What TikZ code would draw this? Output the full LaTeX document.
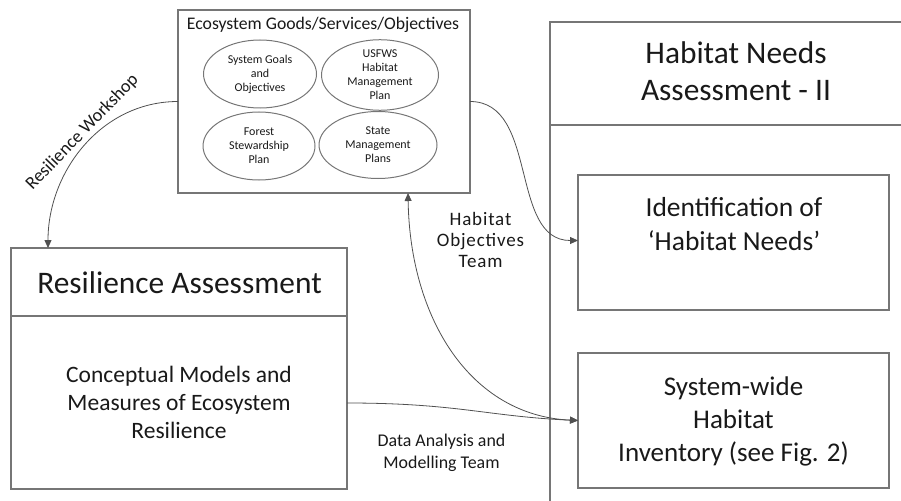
\documentclass[tikz,border=0pt]{standalone}
\usepackage{fontspec}
\setmainfont{Carlito}
\usetikzlibrary{arrows.meta,shapes.geometric,calc}
\definecolor{boxcol}{RGB}{118,118,118}
\definecolor{linecol}{RGB}{80,80,80}
\definecolor{txtcol}{RGB}{25,25,25}
\begin{document}
\begin{tikzpicture}[x=1pt,y=-1pt,
  frame/.style={draw=boxcol, line width=1.2pt, inner sep=0pt, outer sep=0pt},
  oval/.style={ellipse, draw=boxcol, line width=1pt, inner sep=0pt, outer sep=0pt, align=center, text=txtcol, font=\fontsize{12}{14}\selectfont},
  txt/.style={align=center, text=txtcol, inner sep=0pt},
  conn/.style={draw=linecol, line width=0.8pt},
  tip/.tip={Triangle[length=8pt,width=7pt]}
]
\useasboundingbox (0,0) rectangle (901,500);
% Habitat Needs Assessment frame (runs off the page)
\begin{scope}
  \clip (0,0) rectangle (901,500);
  \node[frame, minimum width=372pt, minimum height=498pt] (hna) at (736,271) {};
  \draw[frame] ($(hna.north west)+(0,103)$) -- ($(hna.north east)+(0,103)$);
\end{scope}
\node[txt, font=\fontsize{31.4}{37}\selectfont] (hnat) at (736,71) {Habitat Needs\\Assessment - II};
\node[frame, minimum width=311pt, minimum height=135pt] (ident) at (733.5,242.5) {};
\node[txt, font=\fontsize{27.5}{33.5}\selectfont] (identt) at (734,224) {Identification of\\‘Habitat Needs’};
\node[frame, minimum width=311pt, minimum height=135pt] (sys) at (733.5,420.5) {};
\node[txt, font=\fontsize{27}{33.3}\selectfont] (syst) at (733.5,421.5) {System-wide\\Habitat\\Inventory (see Fig. 2)};
% Ecosystem goods box
\node[frame, minimum width=292pt, minimum height=183pt] (eco) at (324,101.5) {};
\node[txt, font=\fontsize{17.7}{21}\selectfont, anchor=base] (ecot) at (323,29.5) {Ecosystem Goods/Services/Objectives};
\node[oval, minimum width=113pt, minimum height=68pt] (sg) at (260,74) {System Goals\\and\\Objectives};
\node[oval, minimum width=117pt, minimum height=69pt] (us) at (380,75) {USFWS\\Habitat\\Management\\Plan};
\node[oval, minimum width=112pt, minimum height=68pt] (fs) at (259,146) {Forest\\Stewardship\\Plan};
\node[oval, minimum width=118pt, minimum height=67pt] (sm) at (378,145) {State\\Management\\Plans};
% Resilience assessment box
\node[frame, minimum width=336pt, minimum height=241pt] (res) at (179,368.5) {};
\draw[frame] ($(res.north west)+(0,68)$) -- ($(res.north east)+(0,68)$);
\node[txt, font=\fontsize{31.4}{37}\selectfont, anchor=base] (rest) at (179.5,293) {Resilience Assessment};
\node[txt, font=\fontsize{23.5}{28}\selectfont] (cmt) at (179,402) {Conceptual Models and\\Measures of Ecosystem\\Resilience};
% connectors
\draw[conn, -tip] (eco.west) to[out=180, in=90]
  node[pos=0.46, anchor=south, rotate=46, txt, inner sep=2.5pt, font=\fontsize{18.2}{21}\selectfont] {Resilience Workshop}
  ($(res.north west)+(37,0)$);
\draw[conn, -tip] (eco.east) to[out=0, in=180] ($(ident.west)+(0,-2)$);
\draw[conn, tip-tip] ($(eco.south west)+(230,0)$) .. controls +(2,125) and +(-108,-5) .. (sys.west);
\draw[conn, -tip] ($(res.east)+(0,34.5)$) .. controls +(110,0) and +(-90,-4) .. (sys.west);
\node[txt, font=\fontsize{19}{21}\selectfont\addfontfeature{LetterSpace=4.5}] (hot) at (480.5,240) {Habitat\\Objectives\\Team};
\node[txt, font=\fontsize{17.9}{21.6}\selectfont] (dat) at (441.5,453) {Data Analysis and\\Modelling Team};
\end{tikzpicture}
\end{document}
